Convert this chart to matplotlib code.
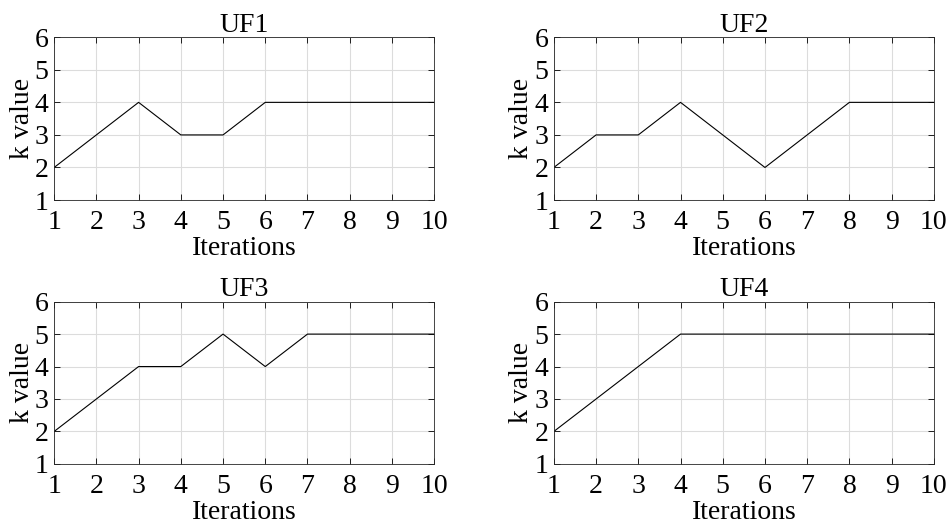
import matplotlib
matplotlib.use("Agg")
import matplotlib.pyplot as plt

# données
iterations = [1, 2, 3, 4, 5, 6, 7, 8, 9, 10]
uf1 = [2, 3, 4, 3, 3, 4, 4, 4, 4, 4]
uf2 = [2, 3, 3, 4, 3, 2, 3, 4, 4, 4]
uf3 = [2, 3, 4, 4, 5, 4, 5, 5, 5, 5]
uf4 = [2, 3, 4, 5, 5, 5, 5, 5, 5, 5]
titles = ["UF1", "UF2", "UF3", "UF4"]

plt.rcParams['font.family'] = ['Liberation Serif', 'DejaVu Serif']
plt.rcParams['font.size'] = 20

fig = plt.figure(figsize=(9.5, 5.32), dpi=100)
positions = [
    [0.057, 0.624, 0.400, 0.306],
    [0.583, 0.624, 0.400, 0.306],
    [0.057, 0.128, 0.400, 0.305],
    [0.583, 0.128, 0.400, 0.305],
]

for pos, series, title in zip(positions, [uf1, uf2, uf3, uf4], titles):
    ax = fig.add_axes(pos)
    ax.plot(iterations, series, color='black', linewidth=0.8)
    ax.set_xlim(1, 10)
    ax.set_ylim(1, 6)
    ax.set_xticks(iterations)
    ax.set_yticks([1, 2, 3, 4, 5, 6])
    ax.grid(True, color='#dcdcdc', linewidth=0.8)
    ax.set_axisbelow(True)
    ax.tick_params(direction='in', top=True, right=True, length=4, width=0.6,
                   labelsize=20)
    ax.tick_params(axis='x', pad=7)
    ax.tick_params(axis='y', pad=4)
    for s in ax.spines.values():
        s.set_linewidth(0.6)
        s.set_color('#262626')
    ax.set_title(title, fontsize=20, pad=4)
    ax.set_xlabel("Iterations", fontsize=20, labelpad=1)
    ax.set_ylabel("k value", fontsize=20, labelpad=0)

fig.savefig("out.png", dpi=100)
